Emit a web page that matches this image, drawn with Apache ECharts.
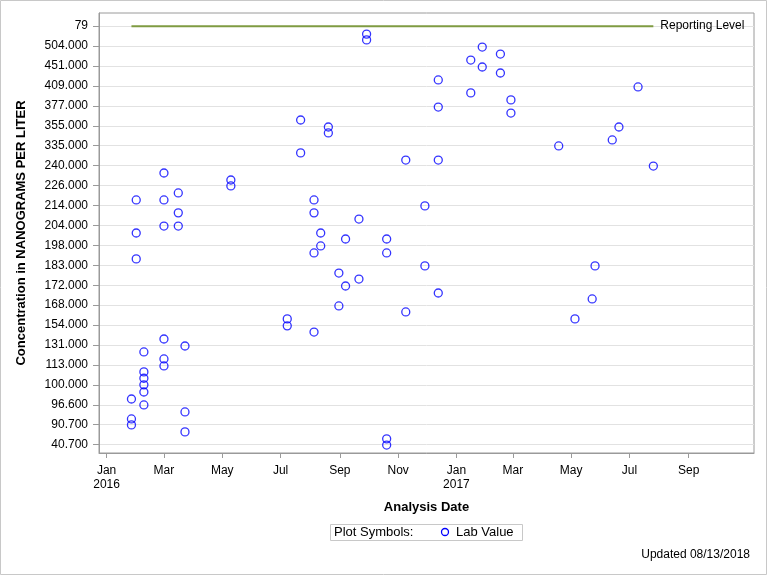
<!DOCTYPE html>
<html>
<head>
<meta charset="utf-8">
<script src="https://cdn.jsdelivr.net/npm/echarts@6/dist/echarts.min.js"></script>
<style>
html,body{margin:0;padding:0;background:#fff;}
#chart{width:768px;height:576px;}
</style>
</head>
<body>
<div id="chart"></div>
<script>
// Y axis tick labels (ordinal positions 0..21, bottom to top)
const yTickLabels = ['40.700','90.700','96.600','100.000','113.000','131.000','154.000','168.000','172.000','183.000','198.000','204.000','214.000','226.000','240.000','335.000','355.000','377.000','409.000','451.000','504.000','79'];

// X axis month ticks
const monthTicks = ['2016-01-01','2016-03-01','2016-05-01','2016-07-01','2016-09-01','2016-11-01','2017-01-01','2017-03-01','2017-05-01','2017-07-01','2017-09-01'];
const monthNames = ['Jan','Feb','Mar','Apr','May','Jun','Jul','Aug','Sep','Oct','Nov','Dec'];

// Lab values: sample dates and position on the ordinal y scale
const sampleDates = [
 '2016-01-27','2016-01-27','2016-01-27',
 '2016-02-01','2016-02-01','2016-02-01',
 '2016-02-09','2016-02-09','2016-02-09','2016-02-09','2016-02-09','2016-02-09',
 '2016-03-01','2016-03-01','2016-03-01','2016-03-01','2016-03-01','2016-03-01',
 '2016-03-16','2016-03-16','2016-03-16',
 '2016-03-23','2016-03-23','2016-03-23',
 '2016-05-10','2016-05-10',
 '2016-07-08','2016-07-08',
 '2016-07-22','2016-07-22',
 '2016-08-05','2016-08-05','2016-08-05','2016-08-05',
 '2016-08-12','2016-08-12',
 '2016-08-20','2016-08-20',
 '2016-08-31','2016-08-31',
 '2016-09-07','2016-09-07',
 '2016-09-21','2016-09-21',
 '2016-09-29','2016-09-29',
 '2016-10-20','2016-10-20','2016-10-20','2016-10-20',
 '2016-11-09','2016-11-09',
 '2016-11-29','2016-11-29',
 '2016-12-13','2016-12-13','2016-12-13','2016-12-13',
 '2017-01-16','2017-01-16',
 '2017-01-28','2017-01-28',
 '2017-02-16','2017-02-16',
 '2017-02-27','2017-02-27',
 '2017-04-18','2017-05-05','2017-05-23','2017-05-26',
 '2017-06-13','2017-06-20','2017-07-10','2017-07-26'
];
const samplePositions = [
 2.29,1.29,0.99,
 12.28,10.62,9.32,
 4.65,3.65,3.33,3.00,2.64,1.99,
 13.63,12.28,10.97,5.30,4.30,3.95,
 12.63,11.63,10.97,
 4.95,1.64,0.64,
 13.28,12.98,
 6.31,5.96,
 16.29,14.64,
 12.28,11.63,9.62,5.65,
 10.62,9.97,
 15.94,15.64,
 8.61,6.96,
 10.32,7.96,
 11.32,8.31,
 20.60,20.31,
 10.32,9.62,0.29,-0.02,
 14.28,6.66,
 11.98,8.97,
 18.30,16.94,14.28,7.61,
 19.30,17.65,
 19.95,18.95,
 19.60,18.65,
 17.30,16.64,
 14.99,6.31,7.31,8.97,
 15.29,15.94,17.95,13.98
];

// Reporting level (ordinal position of the '79' tick), spanning first to last sample
const reportingLevelLabel = 'Reporting Level';
const reportingLevelPos = 21;
const reportingDates = ['2016-01-27','2017-07-26'];

const FONT = '"Liberation Sans", Arial, sans-serif';
const DAY = 86400000;
function ts(s){const p=s.split('-');return Date.UTC(+p[0],+p[1]-1,+p[2]);}
const jan2016 = ts('2016-01-01');

const scatterData = sampleDates.map((d,i)=>[ts(d), samplePositions[i]]);
const tickIdx = yTickLabels.map((_,i)=>i);
const xTickValues = monthTicks.map(ts);

const chart = echarts.init(document.getElementById('chart'), null, {renderer:'canvas'});
chart.setOption({
  animation:false,
  backgroundColor:'#fff',
  textStyle:{fontFamily:FONT},
  grid:{left:99,right:14,top:13,bottom:123,show:true,borderColor:'#9a9a9a',borderWidth:1,backgroundColor:'transparent'},
  xAxis:{
    type:'value',
    min: jan2016 - 7.95*DAY,
    max: jan2016 + 677.3*DAY,
    name:'Analysis Date',
    nameLocation:'middle',
    nameGap:48,
    nameTextStyle:{fontFamily:FONT,fontSize:13,fontWeight:'bold',color:'#000'},
    axisLine:{show:true,onZero:false,lineStyle:{color:'#9a9a9a'}},
    axisTick:{show:true,length:5,customValues:xTickValues,lineStyle:{color:'#9a9a9a'}},
    axisLabel:{
      customValues:xTickValues,
      margin:11,
      fontFamily:FONT,fontSize:12,color:'#000',lineHeight:14,
      formatter:function(v){const d=new Date(v);const mi=d.getUTCMonth();const m=monthNames[mi];return mi===0?m+'\n'+d.getUTCFullYear():m;}
    },
    splitLine:{show:false}
  },
  yAxis:{
    type:'value',
    min:-0.42,
    max:21.66,
    name:'Concentration in NANOGRAMS PER LITER',
    nameLocation:'middle',
    nameGap:71,
    nameTextStyle:{fontFamily:FONT,fontSize:13,fontWeight:'bold',color:'#000'},
    axisLine:{show:true,onZero:false,lineStyle:{color:'#9a9a9a'}},
    axisTick:{show:true,length:6,customValues:tickIdx,lineStyle:{color:'#9a9a9a'}},
    axisLabel:{customValues:tickIdx,margin:11,fontFamily:FONT,fontSize:12,color:'#000',
      formatter:function(v){return yTickLabels[Math.round(v)];}},
    splitLine:{show:true,lineStyle:{color:'#e2e2e2',width:1}}
  },
  series:[
    {
      type:'line',
      name:reportingLevelLabel,
      data:reportingDates.map(d=>[ts(d),reportingLevelPos]),
      symbol:'none',
      silent:true,
      lineStyle:{color:'#7f9b42',width:2},
      endLabel:{show:true,formatter:reportingLevelLabel,distance:7,fontFamily:FONT,fontSize:12,color:'#000'},
      z:2
    },
    {
      type:'scatter',
      name:'Lab Value',
      data:scatterData,
      symbol:'circle',
      symbolSize:8,
      itemStyle:{color:'rgba(0,0,0,0)',borderColor:'#0000ff',borderWidth:1.3},
      z:3
    }
  ],
  graphic:[
    {type:'rect',shape:{x:0.5,y:0.5,width:766,height:574},style:{fill:'none',stroke:'#c8c8c8',lineWidth:1},silent:true},
    {type:'rect',shape:{x:330.5,y:524.5,width:192,height:16},style:{fill:'#fff',stroke:'#c8c8c8',lineWidth:1},silent:true},
    {type:'text',style:{x:334,y:532.5,text:'Plot Symbols:',font:'13px '+FONT,fill:'#000',verticalAlign:'middle'},silent:true},
    {type:'circle',shape:{cx:445,cy:532,r:3.5},style:{fill:'none',stroke:'#0000ff',lineWidth:1.3},silent:true},
    {type:'text',style:{x:456,y:532.5,text:'Lab Value',font:'13px '+FONT,fill:'#000',verticalAlign:'middle'},silent:true},
    {type:'text',style:{x:750,y:555,text:'Updated 08/13/2018',font:'12px '+FONT,fill:'#000',align:'right',verticalAlign:'middle'},silent:true}
  ]
});
</script>
</body>
</html>
